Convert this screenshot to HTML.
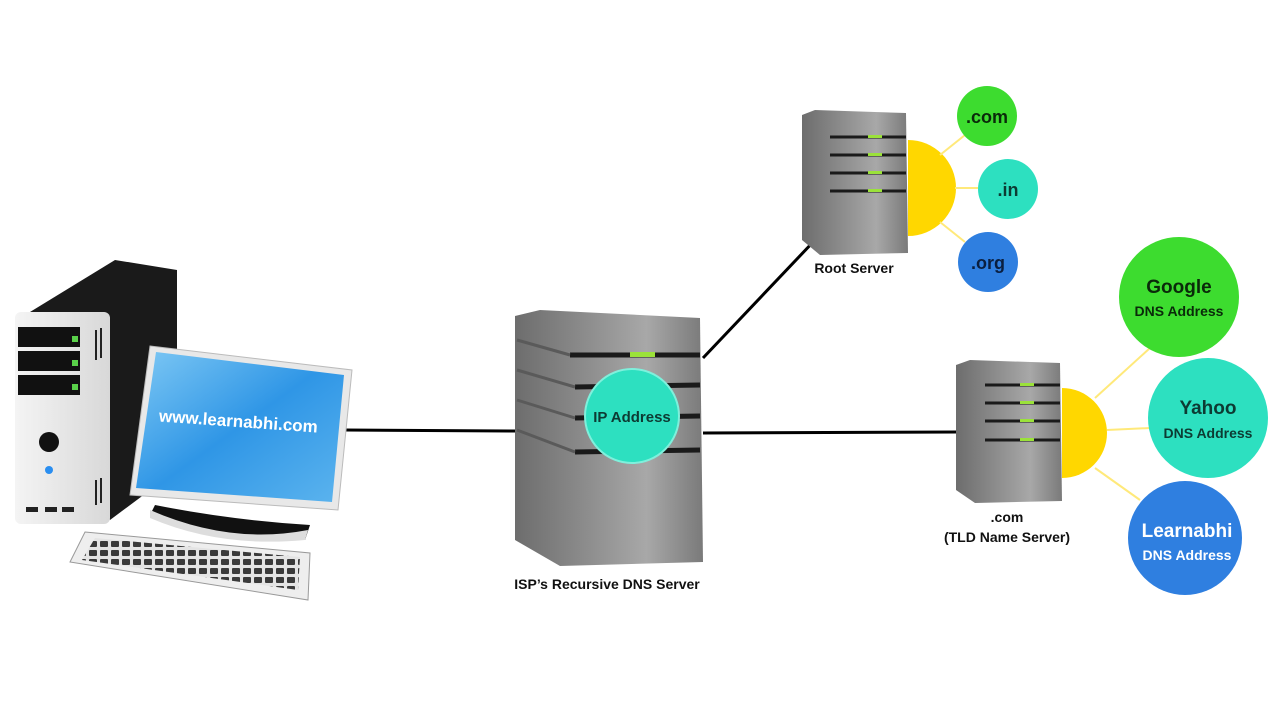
<!DOCTYPE html>
<html><head><meta charset="utf-8"><style>
html,body{margin:0;padding:0;background:#fff;width:1280px;height:720px;overflow:hidden}
svg{display:block}
text{font-family:"Liberation Sans",sans-serif;font-weight:bold}
</style></head><body>
<svg width="1280" height="720" viewBox="0 0 1280 720" xmlns="http://www.w3.org/2000/svg">
<defs>
<linearGradient id="srv" x1="0" x2="1" y1="0" y2="0">
<stop offset="0" stop-color="#6d6d6d"/><stop offset="0.35" stop-color="#8a8a8a"/><stop offset="0.7" stop-color="#a8a8a8"/><stop offset="1" stop-color="#7a7a7a"/></linearGradient>
<linearGradient id="scr" x1="0" x2="1" y1="0" y2="1">
<stop offset="0" stop-color="#7ec8f4"/><stop offset="0.5" stop-color="#2f96e6"/><stop offset="1" stop-color="#5cb4ee"/></linearGradient>
<linearGradient id="tower" x1="0" x2="1"><stop offset="0" stop-color="#f4f4f4"/><stop offset="1" stop-color="#d8d8d8"/></linearGradient>
<pattern id="keys" width="11" height="9" patternUnits="userSpaceOnUse"><rect width="11" height="9" fill="#e4e4e4"/><rect x="1" y="1" width="8" height="6" rx="1" fill="#3a3a3a"/></pattern>
</defs>
<line x1="345" y1="430" x2="518" y2="431" stroke="#000" stroke-width="3"/>
<line x1="703" y1="358" x2="815" y2="240" stroke="#000" stroke-width="3"/>
<line x1="703" y1="433" x2="958" y2="432" stroke="#000" stroke-width="3"/>
<polygon points="30,312 115,260 177,270 177,470 110,520" fill="#1a1a1a"/>
<rect x="15" y="312" width="95" height="212" rx="6" fill="url(#tower)"/>
<rect x="18" y="327" width="62" height="20" fill="#111"/>
<rect x="18" y="351" width="62" height="20" fill="#111"/>
<rect x="18" y="375" width="62" height="20" fill="#111"/>
<rect x="72" y="336" width="6" height="6" fill="#5ad14a"/><rect x="72" y="360" width="6" height="6" fill="#5ad14a"/><rect x="72" y="384" width="6" height="6" fill="#5ad14a"/>
<circle cx="49" cy="442" r="10" fill="#111"/><circle cx="49" cy="470" r="4" fill="#2a8ef0"/>
<rect x="26" y="507" width="12" height="5" fill="#222"/><rect x="45" y="507" width="12" height="5" fill="#222"/><rect x="62" y="507" width="12" height="5" fill="#222"/>
<g stroke="#222" stroke-width="2"><line x1="96" y1="330" x2="96" y2="360"/><line x1="101" y1="328" x2="101" y2="358"/><line x1="96" y1="480" x2="96" y2="505"/><line x1="101" y1="478" x2="101" y2="503"/></g>
<polygon points="150,346 352,370 338,510 130,495" fill="#e8e8e8" stroke="#bbb"/>
<polygon points="156,352 344,375 332,502 136,488" fill="url(#scr)"/>
<text x="238" y="427" font-size="17" fill="#fff" text-anchor="middle" transform="rotate(4 238 427)">www.learnabhi.com</text>
<path d="M155,505 Q230,520 310,525 L305,540 Q220,540 150,515 Z" fill="#111"/>
<path d="M150,510 Q230,545 308,530 L305,540 Q220,548 150,518 Z" fill="#ddd"/>
<polygon points="85,532 310,553 308,600 70,562" fill="#eee" stroke="#999"/>
<polygon points="95,538 300,557 298,590 82,560" fill="url(#keys)"/>
<polygon points="515,316 540,310 700,318 703,562 560,566 515,540" fill="url(#srv)"/>
<g stroke="#1a1a1a" stroke-width="5">
<line x1="570" y1="355" x2="700" y2="355"/><line x1="575" y1="387" x2="700" y2="385"/><line x1="575" y1="418" x2="700" y2="416"/><line x1="575" y1="452" x2="700" y2="450"/></g>
<g stroke="#5a5a5a" stroke-width="3"><line x1="517" y1="340" x2="570" y2="355"/><line x1="517" y1="370" x2="575" y2="387"/><line x1="517" y1="400" x2="575" y2="418"/><line x1="517" y1="430" x2="575" y2="452"/></g>
<rect x="630" y="352" width="25" height="5" fill="#9be23a"/>
<circle cx="632" cy="416" r="47" fill="#2de0c0" stroke="#7ff0dc" stroke-width="2"/>
<text x="632" y="422" font-size="15" fill="#0d3b33" text-anchor="middle">IP Address</text>
<text x="607" y="589" font-size="14" fill="#111" text-anchor="middle">ISP’s Recursive DNS Server</text>
<path d="M908,140 A48,48 0 0 1 908,236 Z" fill="#ffd700"/>
<g stroke="#ffe97a" stroke-width="2"><line x1="940" y1="155" x2="965" y2="135"/><line x1="955" y1="188" x2="978" y2="188"/><line x1="940" y1="222" x2="965" y2="242"/></g>
<polygon points="802,115 815,110 906,113 908,253 820,255 802,240" fill="url(#srv)"/>
<g stroke="#1a1a1a" stroke-width="3"><line x1="830" y1="137" x2="906" y2="137"/><line x1="830" y1="155" x2="906" y2="155"/><line x1="830" y1="173" x2="906" y2="173"/><line x1="830" y1="191" x2="906" y2="191"/></g>
<g fill="#9be23a"><rect x="868" y="135" width="14" height="3"/><rect x="868" y="153" width="14" height="3"/><rect x="868" y="171" width="14" height="3"/><rect x="868" y="189" width="14" height="3"/></g>
<text x="854" y="273" font-size="14" fill="#111" text-anchor="middle">Root Server</text>
<circle cx="987" cy="116" r="30" fill="#3ddc2f"/><text x="987" y="123" font-size="18" text-anchor="middle" fill="#0a2a0a">.com</text>
<circle cx="1008" cy="189" r="30" fill="#2de0c0"/><text x="1008" y="196" font-size="18" text-anchor="middle" fill="#0d3b33">.in</text>
<circle cx="988" cy="262" r="30" fill="#2f7fe0"/><text x="988" y="269" font-size="18" text-anchor="middle" fill="#0a1f40">.org</text>
<path d="M1062,388 A45,45 0 0 1 1062,478 Z" fill="#ffd700"/>
<g stroke="#ffe97a" stroke-width="2"><line x1="1095" y1="398" x2="1150" y2="348"/><line x1="1107" y1="430" x2="1150" y2="428"/><line x1="1095" y1="468" x2="1140" y2="500"/></g>
<polygon points="956,365 970,360 1060,363 1062,501 975,503 956,490" fill="url(#srv)"/>
<g stroke="#1a1a1a" stroke-width="3"><line x1="985" y1="385" x2="1060" y2="385"/><line x1="985" y1="403" x2="1060" y2="403"/><line x1="985" y1="421" x2="1060" y2="421"/><line x1="985" y1="440" x2="1060" y2="440"/></g>
<g fill="#9be23a"><rect x="1020" y="383" width="14" height="3"/><rect x="1020" y="401" width="14" height="3"/><rect x="1020" y="419" width="14" height="3"/><rect x="1020" y="438" width="14" height="3"/></g>
<text x="1007" y="522" font-size="14" fill="#111" text-anchor="middle">.com</text>
<text x="1007" y="542" font-size="14" fill="#111" text-anchor="middle">(TLD Name Server)</text>
<circle cx="1179" cy="297" r="60" fill="#3ddc2f"/>
<text x="1179" y="293" font-size="19" text-anchor="middle" fill="#0a2a0a">Google</text>
<text x="1179" y="316" font-size="14" text-anchor="middle" fill="#0a2a0a">DNS Address</text>
<circle cx="1208" cy="418" r="60" fill="#2de0c0"/>
<text x="1208" y="414" font-size="19" text-anchor="middle" fill="#0d3b33">Yahoo</text>
<text x="1208" y="438" font-size="14" text-anchor="middle" fill="#0d3b33">DNS Address</text>
<circle cx="1185" cy="538" r="57" fill="#2f7fe0"/>
<text x="1187" y="537" font-size="19" text-anchor="middle" fill="#fff">Learnabhi</text>
<text x="1187" y="560" font-size="14" text-anchor="middle" fill="#fff">DNS Address</text>
</svg>
</body></html>
